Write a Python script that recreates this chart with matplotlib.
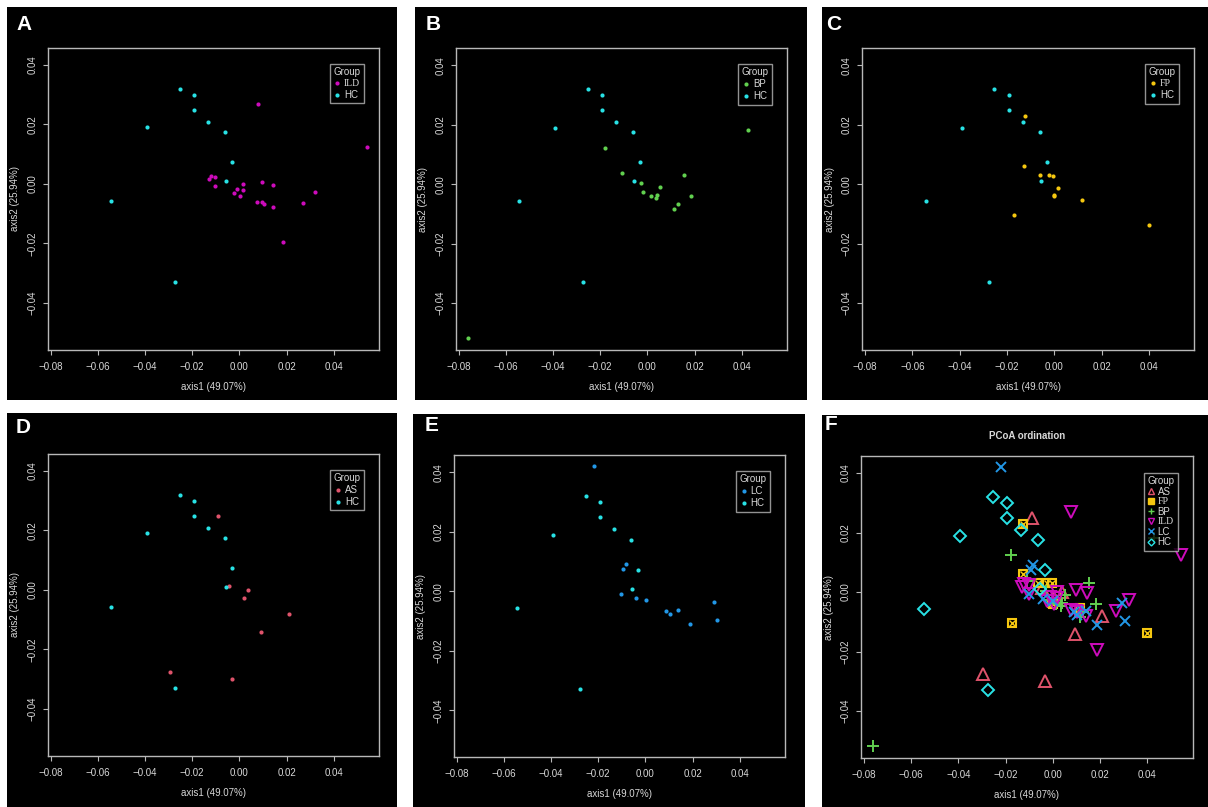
import numpy as np
import matplotlib
matplotlib.use("Agg")
import matplotlib.pyplot as plt
from matplotlib.patches import Rectangle

plt.rcParams["font.family"] = ["Liberation Sans", "DejaVu Sans"]

# ---- data ----
hc_x = [-0.0253, -0.0193, -0.0192, -0.0133, -0.0061, -0.0032, -0.0055, -0.0391, -0.0544, -0.0275]
hc_y = [0.0319, 0.0300, 0.0250, 0.0209, 0.0174, 0.0073, 0.0009, 0.0190, -0.0057, -0.0330]

ild_x = [0.0078, 0.0542, -0.0131, -0.0121, -0.0103, -0.0102, -0.0023, -0.0011, 0.0016, 0.0016,
         0.0003, 0.0076, 0.0096, 0.0143, 0.0097, 0.0102, 0.0140, 0.0267, 0.0321, 0.0185]
ild_y = [0.0269, 0.0125, 0.0018, 0.0027, 0.0024, -0.0006, -0.0029, -0.0018, 0.0001, -0.0020,
         -0.0040, -0.0060, 0.0007, -0.0002, -0.0062, -0.0067, -0.0079, -0.0065, -0.0026, -0.0195]

bp_x = [-0.0179, 0.0427, -0.0109, -0.0028, -0.0017, 0.0013, 0.0034, 0.0040, 0.0052, 0.0155,
        0.0184, 0.0113, 0.0129, -0.0760]
bp_y = [0.0123, 0.0181, 0.0038, 0.0004, -0.0026, -0.0040, -0.0048, -0.0038, -0.0010, 0.0030,
        -0.0040, -0.0082, -0.0066, -0.0518]

fp_x = [-0.0126, -0.0128, -0.0061, -0.0024, -0.0004, 0.0016, -0.0003, 0.0000, 0.0116, -0.0172, 0.0399]
fp_y = [0.0229, 0.0060, 0.0032, 0.0031, 0.0029, -0.0013, -0.0037, -0.0041, -0.0053, -0.0105, -0.0136]

as_x = [-0.0090, -0.0044, 0.0037, 0.0018, 0.0210, 0.0093, -0.0294, -0.0032]
as_y = [0.0250, 0.0014, 0.0001, -0.0027, -0.0081, -0.0142, -0.0276, -0.0300]

lc_x = [-0.0219, -0.0082, -0.0093, -0.0102, -0.0041, 0.0001, 0.0088, 0.0103, 0.0140, 0.0188, 0.0292, 0.0304]
lc_y = [0.0420, 0.0090, 0.0075, -0.0008, -0.0022, -0.0031, -0.0066, -0.0076, -0.0062, -0.0109, -0.0036, -0.0096]

groups = {
    "AS": (as_x, as_y, "#DF536B"),
    "FP": (fp_x, fp_y, "#F5C710"),
    "BP": (bp_x, bp_y, "#61D04F"),
    "ILD": (ild_x, ild_y, "#CD0BBC"),
    "LC": (lc_x, lc_y, "#2297E6"),
    "HC": (hc_x, hc_y, "#28E2E5"),
}

x_ticks = [-0.08, -0.06, -0.04, -0.02, 0.00, 0.02, 0.04]
y_ticks = [-0.04, -0.02, 0.00, 0.02, 0.04]
xlim = (-0.0812, 0.0592)
ylim = (-0.0558, 0.0458)

W, H = 1208, 807
TXT = "#D8D8D8"
FRAME = "#B8B8B8"
SERIF_LABELS = ("ILD", "FP")


def fig_rect(x0, y0, x1, y1):
    # pixel box (top-left origin) -> figure fraction
    return [x0 / W, 1 - y1 / H, (x1 - x0) / W, (y1 - y0) / H]


def panel_bg(bg, letter, lx, ly):
    fig.patches.append(Rectangle((bg[0] / W, 1 - bg[3] / H), (bg[2] - bg[0]) / W,
                                 (bg[3] - bg[1]) / H, transform=fig.transFigure,
                                 facecolor="black", edgecolor="none", zorder=-5))
    fig.text(lx / W, 1 - ly / H, letter, color="white", fontsize=15,
             fontweight="bold", va="center", ha="left")


def style_axes(ax):
    ax.set_facecolor("black")
    ax.set_xlim(*xlim)
    ax.set_ylim(*ylim)
    ax.set_xticks(x_ticks)
    ax.set_yticks(y_ticks)
    ax.set_xticklabels([f"{t:.2f}".replace("-", "\u2212") for t in x_ticks])
    ax.set_yticklabels([f"{t:.2f}".replace("-", "\u2212") for t in y_ticks],
                       rotation=90, va="center")
    for s in ax.spines.values():
        s.set_color(FRAME)
        s.set_linewidth(1.0)
    ax.tick_params(colors=FRAME, labelcolor=TXT, labelsize=7, length=3.5, width=0.8)
    ax.tick_params(axis="x", pad=5)
    ax.tick_params(axis="y", pad=4)
    ax.set_xlabel("axis1 (49.07%)", color=TXT, fontsize=7, labelpad=7)
    ax.set_ylabel("axis2 (25.94%)", color=TXT, fontsize=7, labelpad=5)


def finish_legend(ax, handles, labels, bbox, spacing):
    leg = ax.legend(handles, labels, title="Group", loc="upper right",
                    bbox_to_anchor=bbox, bbox_transform=ax.transAxes,
                    fontsize=7, title_fontsize=7, frameon=True, fancybox=False,
                    handlelength=0.6, handletextpad=0.4, borderpad=0.35,
                    labelspacing=spacing, borderaxespad=0)
    leg.get_frame().set_facecolor("black")
    leg.get_frame().set_edgecolor(FRAME)
    leg.get_frame().set_linewidth(1.0)
    leg.get_title().set_color(TXT)
    for t in leg.get_texts():
        t.set_color(TXT)
        if t.get_text() in SERIF_LABELS:
            t.set_fontfamily("Liberation Serif")
    return leg


fig = plt.figure(figsize=(W / 100, H / 100), dpi=100, facecolor="white")

panels = [
    ("A", "ILD", (7, 7, 397, 400), (16, 24.5), (47.7, 47.7, 379.3, 350)),
    ("B", "BP", (415, 7, 807, 400), (426, 25), (455.7, 48, 787.3, 350)),
    ("C", "FP", (822, 7, 1208, 400), (826, 24.5), (862.3, 48, 1194.3, 350)),
    ("D", "AS", (7, 413, 397, 807), (16, 427.5), (47.7, 453.7, 379.3, 756)),
    ("E", "LC", (413, 414, 805, 807), (425, 425.5), (453.7, 455, 785, 757.3)),
]

for letter, grp, bg, lpos, box in panels:
    panel_bg(bg, letter, *lpos)
    ax = fig.add_axes(fig_rect(*box))
    style_axes(ax)
    hs = []
    for g in (grp, "HC"):
        gx, gy, col = groups[g]
        h, = ax.plot(gx, gy, "o", color=col, ms=3.0, mec="none")
        hs.append(h)
    finish_legend(ax, hs, [grp, "HC"], (0.954, 0.947), 0.2)

# panel F: all groups with R-style pch symbols
panel_bg((822, 415, 1208, 807), "F", 825, 424.5)
ax = fig.add_axes(fig_rect(861, 455.7, 1192.7, 758.3))
style_axes(ax)
ax.set_title("PCoA ordination", color=TXT, fontsize=7, fontweight="bold", pad=12)

markers = {"AS": "^", "FP": "s", "BP": "+", "ILD": "v", "LC": "x", "HC": "D"}
sizes = {"AS": 8.0, "FP": 6.3, "BP": 8.0, "ILD": 8.0, "LC": 6.5, "HC": 5.8}
hs = []
for g in ["AS", "FP", "BP", "ILD", "LC", "HC"]:
    gx, gy, col = groups[g]
    if g == "FP":
        ax.plot(gx, gy, "s", ms=sizes[g], mfc="black", mec=col, mew=1.5)
        ax.plot(gx, gy, "x", ms=sizes[g] * 0.7, color=col, mew=1.0)
        h, = ax.plot([], [], "s", ms=4, mfc=col, mec=col)
    else:
        ax.plot(gx, gy, markers[g], ms=sizes[g], mfc="none", mec=col, color=col, mew=1.4)
        h, = ax.plot([], [], markers[g], ms=4.5 if g != "HC" else 3.5,
                     mfc="none", mec=col, color=col, mew=1.0)
    hs.append(h)
finish_legend(ax, hs, list(markers.keys()), (0.955, 0.943), 0.05)

fig.savefig("out.png", dpi=100, facecolor="white")
